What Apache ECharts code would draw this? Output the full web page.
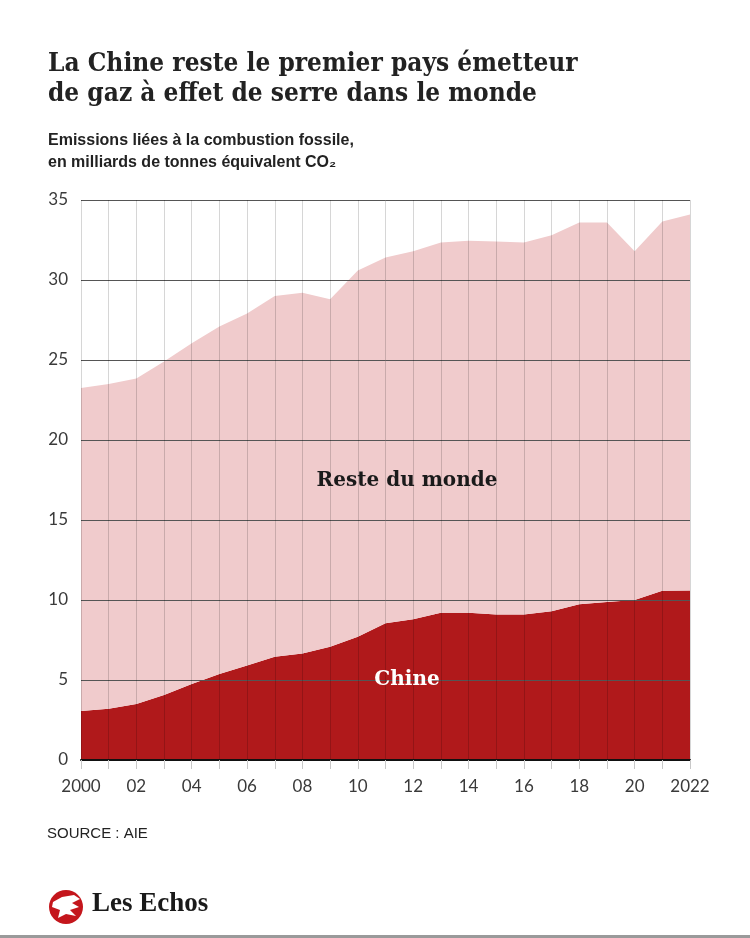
<!DOCTYPE html>
<html>
<head>
<meta charset="utf-8">
<script src="https://cdn.jsdelivr.net/npm/echarts@6/dist/echarts.min.js"></script>
<style>
  html, body { margin: 0; padding: 0; background: #fff; }
  #main { width: 750px; height: 938px; }
</style>
</head>
<body>
<div id="main"></div>
<script>
// données (Gt CO2)
var years = ['2000','2001','2002','2003','2004','2005','2006','2007','2008','2009','2010',
  '2011','2012','2013','2014','2015','2016','2017','2018','2019','2020','2021','2022'];
var yearLabels = ['2000','','02','','04','','06','','08','','10','','12','','14','','16','','18','','20','','2022'];
var chine = [3.07, 3.2, 3.5, 4.07, 4.75, 5.38, 5.9, 6.45, 6.65, 7.08, 7.7,
  8.55, 8.8, 9.2, 9.2, 9.1, 9.1, 9.3, 9.73, 9.88, 10.0, 10.58, 10.6];
var total = [23.25, 23.5, 23.85, 24.9, 26.05, 27.1, 27.9, 29.0, 29.2, 28.8, 30.6,
  31.4, 31.8, 32.35, 32.45, 32.4, 32.35, 32.8, 33.6, 33.6, 31.8, 33.65, 34.1];
var resteMonde = total.map(function (t, i) { return +(t - chine[i]).toFixed(2); });

var chart = echarts.init(document.getElementById('main'));

chart.setOption({
  animation: false,
  backgroundColor: '#fff',
  grid: { left: 81, right: 60, top: 200, bottom: 178, containLabel: false },
  xAxis: {
    type: 'category',
    data: years,
    boundaryGap: false,
    z: 5,
    axisLine: { show: true, lineStyle: { color: '#111', width: 2 } },
    axisTick: { show: true, interval: 0, length: 9, lineStyle: { color: '#c8c8c8', width: 1 } },
    axisLabel: {
      interval: 0, margin: 18, color: '#3a3a3a', fontSize: 17, fontFamily: 'Lato',
      formatter: function (v, i) { return yearLabels[i]; }
    },
    splitLine: { show: true, interval: 0, lineStyle: { color: 'rgba(0,0,0,0.16)', width: 1 } }
  },
  yAxis: {
    type: 'value',
    min: 0, max: 35, interval: 5,
    z: 5,
    axisLine: { show: false },
    axisTick: { show: false },
    axisLabel: { margin: 13, color: '#3a3a3a', fontSize: 17, fontFamily: 'Lato' },
    splitLine: { show: true, lineStyle: { color: '#555', width: 1 } }
  },
  series: [
    {
      name: 'Chine', type: 'line', stack: 'total', data: chine,
      symbol: 'none', lineStyle: { width: 0 },
      areaStyle: { color: '#b0191b', opacity: 1 }
    },
    {
      name: 'Reste du monde', type: 'line', stack: 'total', data: resteMonde,
      symbol: 'none', lineStyle: { width: 0 },
      areaStyle: { color: '#f0cbcc', opacity: 1 }
    }
  ],
  graphic: [
    { type: 'text', left: 48, top: 49, style: { text: 'La Chine reste le premier pays émetteur\nde gaz à effet de serre dans le monde',
      font: 'bold 26px "DejaVu Serif Condensed", "DejaVu Serif"', fill: '#222', lineHeight: 30 } },
    { type: 'text', left: 48, top: 130, style: { text: 'Emissions liées à la combustion fossile,\nen milliards de tonnes équivalent CO₂',
      font: 'bold 16px "Liberation Sans"', fill: '#222', lineHeight: 22 } },
    { type: 'text', x: 407, y: 481, z: 10, style: { text: 'Reste du monde', font: 'bold 20px "DejaVu Serif"',
      fill: '#1a1a1a', align: 'center', verticalAlign: 'middle' } },
    { type: 'text', x: 407, y: 680, z: 10, style: { text: 'Chine', font: 'bold 20px "DejaVu Serif"',
      fill: '#fff', align: 'center', verticalAlign: 'middle' } },
    { type: 'text', left: 47, top: 826, style: { text: 'SOURCE : AIE', font: '15px "Liberation Sans"', fill: '#222' } },
    { type: 'circle', shape: { cx: 66, cy: 907, r: 17 }, style: { fill: '#c4161c' } },
    { type: 'polygon', shape: { points: [[53, 902], [62, 897], [74, 895], [80, 899], [72, 903], [79, 907], [70, 910], [76, 916], [66, 914], [58, 918], [60, 910], [52, 907]] },
      style: { fill: '#fff' } },
    { type: 'text', left: 92, top: 891, style: { text: 'Les Echos', font: 'bold 27px "Liberation Serif"', fill: '#1a1a1a' } },
    { type: 'rect', shape: { x: 0, y: 935, width: 750, height: 3 }, style: { fill: '#9a9a9a' } }
  ]
});
</script>
</body>
</html>
